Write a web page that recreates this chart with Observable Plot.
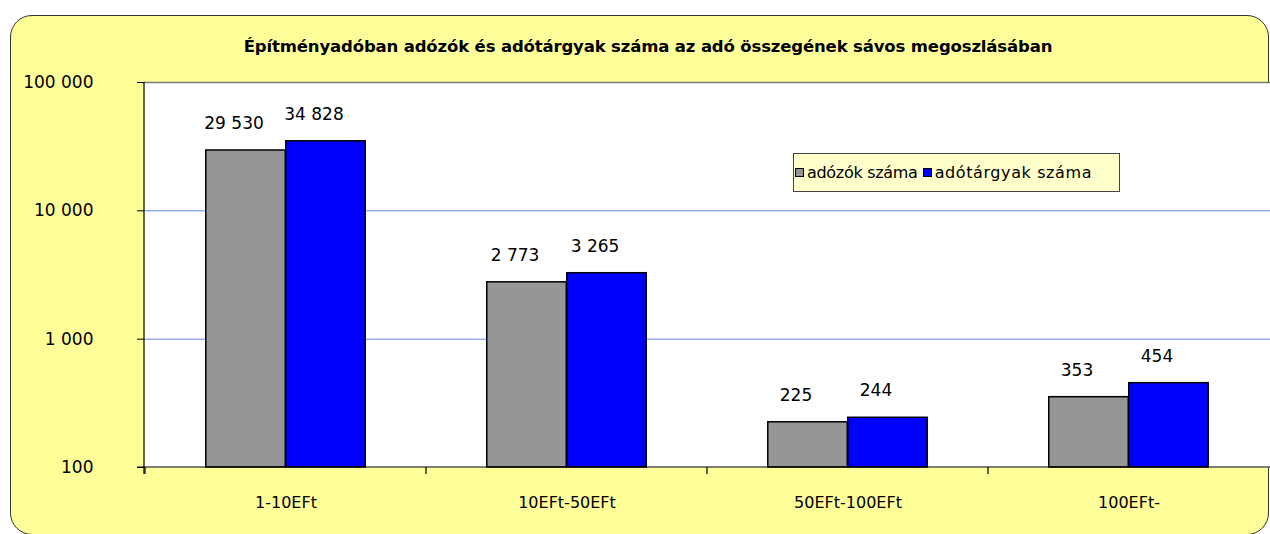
<!DOCTYPE html>
<html><head><meta charset="utf-8">
<script src="https://cdn.jsdelivr.net/npm/d3@7"></script>
<script src="https://cdn.jsdelivr.net/npm/@observablehq/plot@0.6"></script>
<style>
body{margin:0;background:#fff;width:1270px;height:534px;overflow:hidden;position:relative;font-family:"DejaVu Sans",sans-serif;color:#000}
#panel{position:absolute;left:10px;top:15px;width:1259px;height:520px;background:#FFFF99;border:1.5px solid #333;border-radius:22px;box-sizing:border-box}
#title{position:absolute;left:0;width:1296px;top:37px;text-align:center;font-weight:bold;font-size:16.5px;white-space:nowrap;letter-spacing:-0.15px}
#chart{position:absolute;left:0;top:0}
#legend{position:absolute;left:793px;top:153px;width:327px;height:39px;box-sizing:border-box;background:#FFFFCC;border:1px solid #444;display:flex;align-items:center;padding-left:1px;font-size:16px;white-space:nowrap;letter-spacing:-0.3px}
.sw{display:inline-block;width:7px;height:7px;border:1px solid #000;margin-right:3px}
.item{display:inline-flex;align-items:center;margin-right:5px}
.item:last-child{letter-spacing:0.6px}
</style></head>
<body>
<div id="panel"></div>
<div id="chart"></div>
<div id="title">Építményadóban adózók és adótárgyak száma az adó összegének sávos megoszlásában</div>
<div id="legend"></div>
<script>
const categories = ["1-10EFt", "10EFt-50EFt", "50EFt-100EFt", "100EFt-"];
const taxpayers = [29530, 2773, 225, 353];
const taxObjects = [34828, 3265, 244, 454];
const seriesNames = ["adózók száma", "adótárgyak száma"];
const seriesColors = ["#969696", "#0000FF"];
const yTicks = [100, 1000, 10000, 100000];
const gridValues = [1000, 10000];

const fmt = v => d3.format(",")(v).replace(/,/g, " ");
const rowsA = taxpayers.map((v, i) => ({category: categories[i], value: v}));
const rowsB = taxObjects.map((v, i) => ({category: categories[i], value: v}));

const W = 1270, H = 534;
const mL = 144, mR = 0, mT = 82, mB = 67;
const band = (W - mL - mR) / categories.length;
// Excel-like grouping: two adjacent bars, gap width 150%
const barW = band / (2 + 1.52);
const gap = (band - 2 * barW) / 2;

const frameLines = (index, scales, values, dims) => {
  const {x, y} = scales;
  const g = d3.create("svg:g").attr("stroke", "#000").attr("stroke-width", 1.2);
  const y0 = y(100), yTop = y(100000);
  g.append("line").attr("x1", mL).attr("x2", mL).attr("y1", yTop).attr("y2", y0 + 7);
  g.append("line").attr("x1", mL - 7).attr("x2", W).attr("y1", y0).attr("y2", y0);
  for (const c of categories) {
    const xc = x(c);
    g.append("line").attr("x1", xc).attr("x2", xc).attr("y1", y0).attr("y2", y0 + 7);
  }
  return g.node();
};

const chart = Plot.plot({
  width: W, height: H,
  marginLeft: mL, marginRight: mR, marginTop: mT, marginBottom: mB,
  style: {background: "transparent", fontFamily: "'DejaVu Sans', sans-serif", fontSize: "16px", color: "#000"},
  x: {type: "band", domain: categories, padding: 0, label: null},
  y: {type: "log", domain: [100, 100000], label: null},
  marks: [
    Plot.frame({fill: "white", stroke: null}),
    Plot.ruleY(gridValues, {stroke: "#6282EA", strokeWidth: 1}),
    Plot.ruleY([100000], {stroke: "#777", strokeWidth: 1.5}),
    Plot.barY(rowsA, {x: "category", y1: 100, y2: "value", fill: seriesColors[0], stroke: "#000", strokeWidth: 1.5,
      insetLeft: gap, insetRight: band - gap - barW}),
    Plot.barY(rowsB, {x: "category", y1: 100, y2: "value", fill: seriesColors[1], stroke: "#000", strokeWidth: 1.5,
      insetLeft: gap + barW, insetRight: gap}),
    Plot.text(rowsA, {x: "category", y: "value", text: d => fmt(d.value), dy: -27, dx: gap + barW / 2 - band / 2 - 12, fontSize: 17, fill: "#000"}),
    Plot.text(rowsB, {x: "category", y: "value", text: d => fmt(d.value), dy: -27, dx: gap + barW * 1.5 - band / 2 - 12, fontSize: 17, fill: "#000"}),
    Plot.axisY({ticks: yTicks, tickFormat: fmt, tickSize: 7, tickPadding: 44, fontSize: 17, stroke: "#000", label: null}),
    Plot.axisX({tickSize: 0, tickPadding: 29, fontSize: 16, label: null}),
    frameLines
  ]
});
document.getElementById("chart").appendChild(chart);

const legend = document.getElementById("legend");
seriesNames.forEach((name, i) => {
  const item = document.createElement("span");
  item.className = "item";
  const sw = document.createElement("span");
  sw.className = "sw";
  sw.style.background = seriesColors[i];
  item.appendChild(sw);
  item.appendChild(document.createTextNode(name));
  legend.appendChild(item);
});
</script>
</body></html>
